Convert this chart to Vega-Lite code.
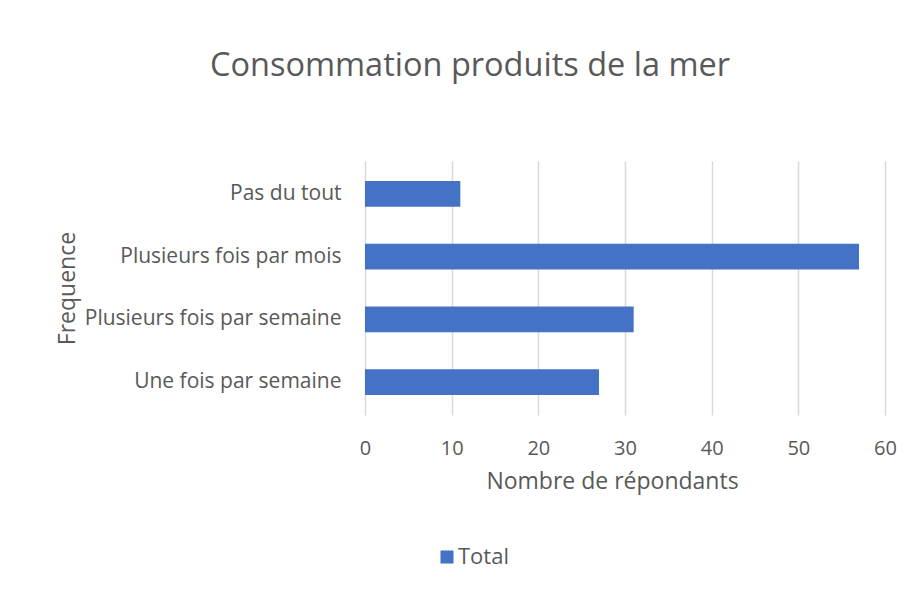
{
  "$schema": "https://vega.github.io/schema/vega-lite/v6.json",
  "autosize": "none",
  "width": 520,
  "height": 254,
  "padding": {"left": 365, "top": 161, "right": 35, "bottom": 181},
  "background": "white",
  "title": {
    "text": "Consommation produits de la mer",
    "fontSize": 32.5,
    "font": "Open Sans",
    "fontWeight": "normal",
    "color": "#595959",
    "anchor": "middle",
    "dx": -155,
    "offset": 79
  },
  "data": {
    "values": [
      {"Frequence": "Pas du tout", "Nombre": 11, "serie": "Total"},
      {"Frequence": "Plusieurs fois par mois", "Nombre": 57, "serie": "Total"},
      {"Frequence": "Plusieurs fois par semaine", "Nombre": 31, "serie": "Total"},
      {"Frequence": "Une fois par semaine", "Nombre": 27, "serie": "Total"}
    ]
  },
  "mark": {"type": "bar"},
  "encoding": {
    "y": {
      "field": "Frequence",
      "type": "nominal",
      "sort": ["Pas du tout", "Plusieurs fois par mois", "Plusieurs fois par semaine", "Une fois par semaine"],
      "scale": {"paddingInner": 0.59, "paddingOuter": 0.32},
      "axis": {
        "title": "Frequence",
        "titleFont": "Open Sans",
        "titleFontSize": 23,
        "titleFontWeight": "normal",
        "titleColor": "#595959",
        "titleX": -286,
        "titleY": 127,
        "titleAngle": -90,
        "titleAlign": "center",
        "titleBaseline": "bottom",
        "labelFont": "Open Sans",
        "labelFontSize": 21,
        "labelColor": "#595959",
        "labelPadding": 24,
        "labelLimit": 400,
        "ticks": false,
        "domain": false,
        "grid": false
      }
    },
    "x": {
      "field": "Nombre",
      "type": "quantitative",
      "scale": {"domain": [0, 60]},
      "axis": {
        "title": "Nombre de répondants",
        "titleFont": "Open Sans",
        "titleFontSize": 23,
        "titleFontWeight": "normal",
        "titleColor": "#595959",
        "titlePadding": 12,
        "titleX": 247,
        "labelFont": "Open Sans",
        "labelFontSize": 20,
        "labelColor": "#595959",
        "labelPadding": 23,
        "labelFlush": false,
        "values": [0, 10, 20, 30, 40, 50, 60],
        "ticks": false,
        "domain": false,
        "grid": true,
        "gridColor": "#d9d9d9",
        "gridWidth": 1.5
      }
    },
    "color": {
      "field": "serie",
      "type": "nominal",
      "scale": {"range": ["#4472C4"]},
      "legend": {
        "title": null,
        "orient": "none",
        "legendX": 71,
        "legendY": 385,
        "symbolType": "square",
        "symbolSize": 170,
        "symbolStrokeWidth": 0,
        "labelFont": "Open Sans",
        "labelFontSize": 22,
        "labelColor": "#595959",
        "labelOffset": 0
      }
    }
  },
  "config": {"view": {"stroke": null}}
}
